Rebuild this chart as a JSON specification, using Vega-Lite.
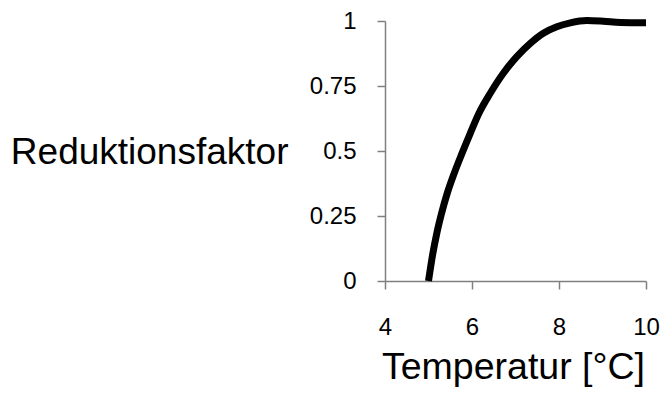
{
  "$schema": "https://vega.github.io/schema/vega-lite/v6.json",
  "autosize": "none",
  "padding": {"left": 385, "top": 21, "right": 16, "bottom": 113},
  "width": 261,
  "height": 260,
  "background": "white",
  "config": {
    "view": {"stroke": null},
    "font": "Liberation Sans",
    "axis": {"grid": false, "domainColor": "#808080", "tickColor": "#808080", "domainWidth": 1.5, "tickWidth": 1.5, "labelColor": "#000", "titleColor": "#000", "labelFont": "Liberation Sans", "titleFont": "Liberation Sans", "titleFontWeight": "normal"}
  },
  "data": {
    "values": [
      {"t": 5.0, "f": 0.0},
      {"t": 5.10, "f": 0.106},
      {"t": 5.19, "f": 0.183},
      {"t": 5.30, "f": 0.26},
      {"t": 5.43, "f": 0.337},
      {"t": 5.59, "f": 0.414},
      {"t": 5.77, "f": 0.491},
      {"t": 5.96, "f": 0.568},
      {"t": 6.16, "f": 0.645},
      {"t": 6.42, "f": 0.722},
      {"t": 6.72, "f": 0.799},
      {"t": 7.03, "f": 0.863},
      {"t": 7.34, "f": 0.914},
      {"t": 7.64, "f": 0.953},
      {"t": 7.95, "f": 0.978},
      {"t": 8.26, "f": 0.993},
      {"t": 8.64, "f": 1.002},
      {"t": 9.02, "f": 0.999},
      {"t": 9.41, "f": 0.994},
      {"t": 10.0, "f": 0.993}
    ]
  },
  "mark": {"type": "line", "color": "#000", "strokeWidth": 7, "interpolate": "monotone", "clip": false, "strokeCap": "butt"},
  "encoding": {
    "x": {
      "field": "t", "type": "quantitative",
      "scale": {"domain": [4, 10], "nice": false, "zero": false},
      "axis": {"values": [4, 6, 8, 10], "labelExpr": "format(datum.value, '')", "title": "Temperatur [°C]", "titleFontSize": 37.5, "labelFontSize": 24, "tickSize": 8, "labelPadding": 26, "titleBaseline": "alphabetic", "titleY": 97, "titleX": 128, "titleAlign": "center", "labelFlush": false}
    },
    "y": {
      "field": "f", "type": "quantitative",
      "scale": {"domain": [0, 1], "nice": false},
      "axis": {"values": [0, 0.25, 0.5, 0.75, 1], "labelExpr": "format(datum.value, '')", "title": "Reduktionsfaktor", "titleFontSize": 37, "labelFontSize": 24, "tickSize": 8, "labelPadding": 21, "titleAngle": 0, "titleAlign": "right", "titleBaseline": "alphabetic", "titleX": -97, "titleY": 142, "labelFlush": false}
    }
  }
}
